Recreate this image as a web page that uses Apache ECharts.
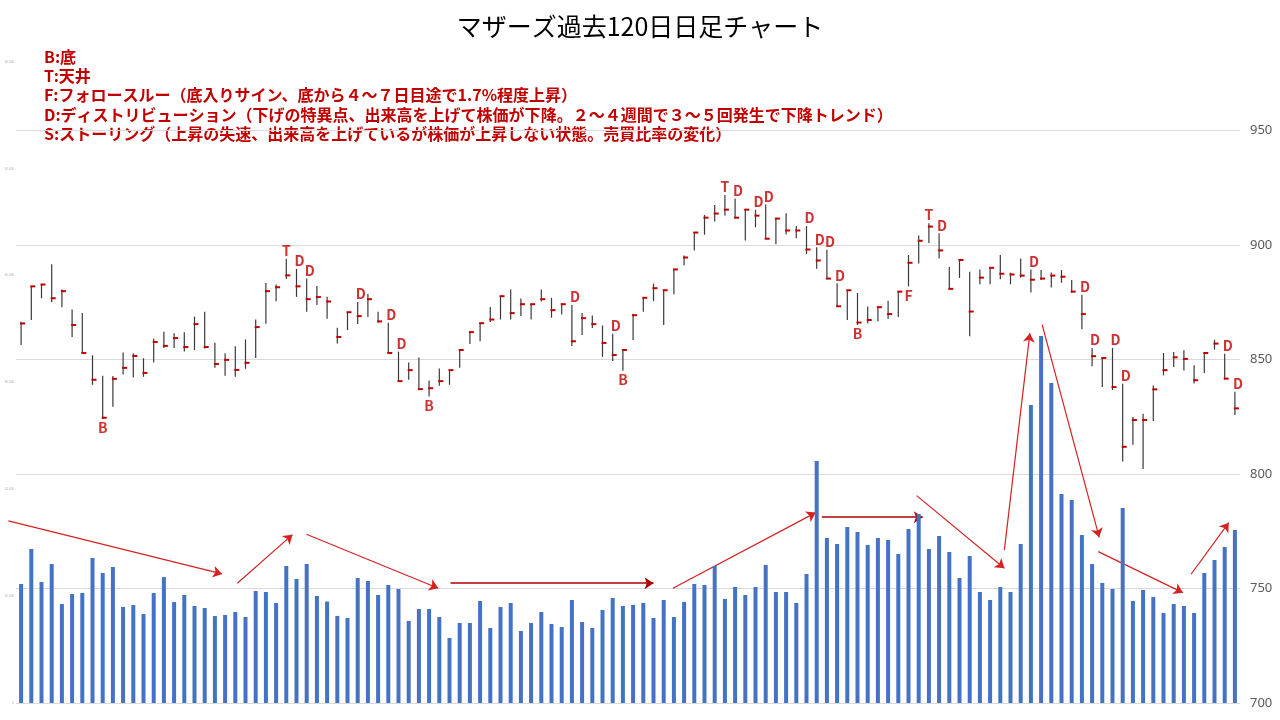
<!DOCTYPE html>
<html lang="ja">
<head>
<meta charset="UTF-8">
<title>マザーズ過去120日日足チャート</title>
<script src="https://cdn.jsdelivr.net/npm/echarts/dist/echarts.min.js"></script>
<style>
  html, body { margin: 0; padding: 0; background: #fff; }
  #chart { width: 1280px; height: 720px; }
</style>
</head>
<body>
<div id="chart"></div>
<script>
// 日付（1〜120日目）
var days = [];
for (var d = 1; d <= 120; d++) days.push(String(d));

// 高値・安値・終値
var highs = [
  866.5, 882.0, 883.0, 891.7, 880.6, 871.9, 870.4, 851.9, 843.0, 842.8,
  853.1, 852.8, 850.6, 859.1, 862.2, 861.5, 861.9, 868.8, 870.9, 857.4,
  852.8, 855.8, 858.8, 867.5, 883.5, 882.8, 894.1, 889.6, 885.4, 882.2,
  877.5, 863.9, 870.7, 875.2, 878.7, 870.9, 866.1, 853.5, 848.7, 850.9,
  840.9, 846.1, 845.7, 854.2, 862.5, 865.9, 873.0, 877.7, 880.6, 876.7,
  874.2, 880.6, 877.0, 874.5, 873.9, 870.4, 869.3, 864.9, 861.3, 854.2,
  870.0, 877.0, 883.2, 880.6, 889.6, 895.5, 905.7, 913.2, 917.5, 921.9,
  920.4, 915.8, 915.4, 917.8, 911.6, 913.9, 908.4, 908.3, 899.1, 898.0,
  883.3, 880.4, 879.1, 873.2, 873.3, 875.7, 879.7, 895.7, 904.2, 909.6,
  905.2, 890.4, 893.6, 888.4, 889.4, 890.3, 895.7, 888.0, 894.2, 889.4,
  889.1, 888.0, 889.1, 884.8, 878.3, 855.1, 850.7, 855.1, 839.4, 824.9,
  826.4, 838.7, 852.9, 853.3, 854.1, 847.5, 852.9, 858.7, 852.6, 836.0
];
var lows = [
  856.4, 867.3, 876.8, 875.1, 872.9, 859.9, 852.9, 839.0, 824.1, 829.4,
  843.5, 842.2, 842.5, 848.7, 855.1, 855.1, 853.5, 854.2, 854.8, 846.4,
  842.9, 842.5, 846.0, 850.7, 865.7, 875.5, 885.2, 877.4, 870.9, 873.8,
  867.8, 857.0, 862.9, 865.5, 868.6, 866.1, 852.9, 840.6, 841.2, 836.8,
  833.9, 838.6, 839.0, 846.4, 856.8, 858.0, 866.4, 867.5, 867.5, 869.0,
  867.5, 875.5, 868.3, 869.7, 855.9, 860.7, 863.8, 851.2, 849.4, 845.1,
  858.6, 870.9, 875.5, 865.1, 878.6, 891.2, 897.7, 904.6, 910.3, 913.0,
  911.6, 902.0, 907.8, 902.8, 900.4, 904.6, 903.0, 896.1, 889.7, 885.4,
  873.3, 867.3, 865.1, 865.8, 866.8, 867.7, 868.6, 882.0, 892.0, 900.9,
  894.2, 881.2, 885.7, 860.2, 882.9, 882.9, 885.1, 882.9, 885.8, 879.3,
  884.8, 881.5, 883.6, 879.3, 863.3, 847.1, 838.0, 836.7, 805.5, 812.8,
  802.2, 823.2, 843.1, 846.8, 845.2, 839.6, 844.2, 854.4, 841.3, 825.8
];
var closes = [
  865.8, 882.0, 882.8, 876.8, 879.9, 865.1, 852.9, 841.2, 824.6, 841.6,
  846.4, 851.6, 844.2, 857.7, 856.0, 859.4, 855.5, 865.5, 855.5, 848.1,
  849.9, 845.5, 848.6, 864.2, 879.9, 881.6, 886.8, 882.0, 876.4, 877.3,
  875.4, 859.9, 870.7, 869.0, 876.4, 866.7, 852.9, 840.6, 845.4, 837.1,
  837.5, 840.6, 845.4, 854.2, 862.0, 865.9, 867.5, 877.7, 870.3, 874.2,
  874.2, 876.4, 871.6, 874.2, 858.0, 868.1, 865.5, 857.3, 852.0, 854.2,
  869.4, 877.0, 881.2, 880.3, 889.4, 894.6, 905.5, 912.0, 913.8, 915.5,
  912.0, 915.5, 912.9, 902.8, 911.6, 906.4, 906.4, 898.1, 893.3, 885.4,
  873.3, 880.3, 866.2, 867.3, 872.9, 869.9, 879.7, 892.3, 901.9, 908.1,
  897.7, 880.9, 893.5, 871.0, 885.8, 890.1, 887.5, 887.2, 886.7, 884.9,
  885.4, 886.7, 886.2, 879.7, 869.9, 851.5, 850.7, 838.0, 811.9, 823.6,
  823.6, 837.0, 845.4, 851.0, 850.3, 841.0, 852.9, 857.0, 841.7, 828.7
];

// 出来高
var volumes = [
  11140, 14410, 11330, 13010, 9270, 10200, 10300, 13570, 12170, 12730,
  8990, 9170, 8330, 10300, 11790, 9450, 10110, 9080, 8890, 8140,
  8240, 8520, 8050, 10480, 10390, 9360, 12820, 11610, 13010, 10020,
  9500, 8150, 7960, 11700, 11420, 10110, 11050, 10670, 7680, 8800,
  8800, 8050, 6090, 7490, 7490, 9550, 7020, 8990, 9360, 6740,
  7490, 8520, 7400, 7120, 9640, 7580, 7020, 8710, 9830, 9080,
  9180, 9360, 7960, 9640, 8050, 9460, 11140, 11050, 12830, 9740,
  10860, 10110, 10860, 12920, 10390, 10390, 9360, 12080, 22660, 15450,
  14890, 16480, 16010, 14790, 15450, 15260, 13950, 16290, 17700, 14420,
  15640, 14140, 11700, 13760, 10390, 9640, 10860, 10390, 14890, 27900,
  34360, 29960, 19570, 19010, 15730, 13010, 11240, 10670, 18260, 9550,
  10580, 9930, 8430, 9270, 9080, 8430, 12170, 13390, 14610, 16200
];

// サイン（B:底 T:天井 F:フォロースルー D:ディストリビューション）
var signIdx = [8, 26, 27, 28, 33, 36, 37, 40, 54, 58, 59, 69, 70, 72, 73, 77, 78, 79, 80, 82, 87, 89, 90,
               99, 104, 105, 107, 108, 118, 119];
var signTxt = ['B', 'T', 'D', 'D', 'D', 'D', 'D', 'B', 'D', 'D', 'B', 'T', 'D', 'D', 'D', 'D', 'D', 'D', 'D', 'B', 'F', 'T', 'D',
               'D', 'D', 'D', 'D', 'D', 'D', 'D'];

// 出来高の流れを示す矢印（日インデックス, 出来高）
var arrowFrom = [[-1.25, 17040], [21.2, 11210], [27.97, 15800], [42.1, 11210], [63.9, 10740], [78.5, 17390],
                 [87.8, 19410], [96.4, 14330], [100.1, 35420], [105.6, 14170], [114.7, 12050]];
var arrowTo   = [[19.7, 12080], [26.6, 15760], [40.9, 10740], [62.0, 11210], [77.9, 17820], [88.4, 17390],
                 [96.4, 12610], [98.9, 34620], [105.7, 15510], [113.9, 10330], [118.4, 16880]];

var legendText = [
  'B:底',
  'T:天井',
  'F:フォロースルー（底入りサイン、底から４～７日目途で1.7%程度上昇）',
  'D:ディストリビューション（下げの特異点、出来高を上げて株価が下降。２～４週間で３～５回発生で下降トレンド）',
  'S:ストーリング（上昇の失速、出来高を上げているが株価が上昇しない状態。売買比率の変化）'
];

var hlc = highs.map(function (h, i) { return [i, h, lows[i], closes[i]]; });

var signData = signIdx.map(function (idx, k) {
  var t = signTxt[k];
  var below = (t === 'B' || t === 'F');
  return {
    value: [idx, below ? lows[idx] : highs[idx]],
    label: {
      show: true,
      formatter: t,
      position: below ? 'bottom' : 'top',
      distance: below ? 2 : 1,
      offset: t === 'D' ? [3, 0] : [0, 0]
    }
  };
});

var arrowData = arrowFrom.map(function (p, k) {
  var flat = p[1] === arrowTo[k][1];
  return {
    coords: [p, arrowTo[k]],
    lineStyle: flat ? { color: '#B00000', width: 1.6, opacity: 1 } : { color: '#D42222', width: 1.2, opacity: 1 }
  };
});

var chart = echarts.init(document.getElementById('chart'));
var FONT = '"Noto Sans CJK JP", "Noto Sans", sans-serif';

var option = {
  animation: false,
  backgroundColor: '#ffffff',
  title: {
    text: 'マザーズ過去120日日足チャート',
    left: 'center',
    top: 9,
    textStyle: { fontSize: 25, fontWeight: 'normal', color: '#000', fontFamily: FONT }
  },
  graphic: [{
    type: 'text',
    left: 44,
    top: 47,
    style: {
      text: legendText.join('\n'),
      fill: '#C00000',
      font: 'bold 16px "Noto Sans CJK JP"',
      lineHeight: 19.3
    }
  }],
  grid: { left: 16, right: 40, top: 62, bottom: 17 },
  xAxis: [
    {
      type: 'category',
      data: days,
      axisLine: { show: false },
      axisTick: { show: false },
      axisLabel: { show: false }
    },
    {
      type: 'value',
      min: -0.5,
      max: 119.5,
      show: false
    }
  ],
  yAxis: [
    {
      type: 'value',
      position: 'left',
      min: 0,
      max: 60000,
      interval: 10000,
      axisLine: { show: false },
      axisTick: { show: false },
      splitLine: { show: false },
      axisLabel: { fontSize: 3, color: '#aaa', margin: 2 }
    },
    {
      type: 'value',
      position: 'right',
      min: 700,
      max: 980,
      interval: 50,
      axisLine: { show: false },
      axisTick: { show: false },
      splitLine: { show: true, showMaxLine: false, lineStyle: { color: '#d9d9d9', width: 1 } },
      axisLabel: { showMaxLabel: false, fontSize: 13, color: '#595959', margin: 10, fontFamily: 'Noto Sans' }
    }
  ],
  series: [
    {
      name: '出来高',
      type: 'bar',
      xAxisIndex: 0,
      yAxisIndex: 0,
      data: volumes,
      barWidth: 4,
      itemStyle: { color: '#4472C4' },
      silent: true
    },
    {
      name: '株価',
      type: 'custom',
      xAxisIndex: 0,
      yAxisIndex: 1,
      data: hlc,
      encode: { x: 0, y: [1, 2, 3] },
      silent: true,
      renderItem: function (params, api) {
        var i = api.value(0);
        var hi = api.coord([i, api.value(1)]);
        var lo = api.coord([i, api.value(2)]);
        var cl = api.coord([i, api.value(3)]);
        return {
          type: 'group',
          children: [
            { type: 'line', shape: { x1: hi[0], y1: hi[1], x2: lo[0], y2: lo[1] },
              style: { stroke: '#3a3a3a', lineWidth: 1.2 } },
            { type: 'rect', shape: { x: cl[0] - 1, y: cl[1] - 1, width: 5, height: 2 },
              style: { fill: '#C00000' } }
          ]
        };
      }
    },
    {
      name: 'サイン',
      type: 'scatter',
      xAxisIndex: 0,
      yAxisIndex: 1,
      symbolSize: 0,
      data: signData,
      silent: true,
      label: { color: '#C00000', fontSize: 14, fontWeight: 'bold', fontFamily: FONT }
    },
    {
      name: '矢印',
      type: 'lines',
      coordinateSystem: 'cartesian2d',
      xAxisIndex: 1,
      yAxisIndex: 0,
      clip: false,
      symbol: ['none', 'arrow'],
      symbolSize: 9,
      data: arrowData,
      silent: true
    }
  ]
};

chart.setOption(option);
</script>
</body>
</html>
